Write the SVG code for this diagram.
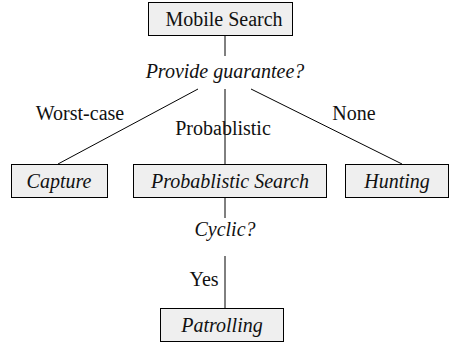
<svg xmlns="http://www.w3.org/2000/svg" width="454" height="343" viewBox="0 0 454 343">
<style>
.box{fill:#efefef;stroke:#000;stroke-width:1}
.c{stroke:#000;stroke-width:1;fill:none}
</style>
<rect width="454" height="343" fill="#fff"/>
<g font-family="Liberation Serif, DejaVu Serif, serif" font-size="20" fill="#111" text-anchor="middle">
<g id="connectors">
<line class="c" x1="225" y1="35" x2="225" y2="56"/>
<line class="c" x1="198" y1="89" x2="58" y2="164"/>
<line class="c" x1="225" y1="89" x2="225" y2="164"/>
<line class="c" x1="251" y1="89" x2="402" y2="164"/>
<line class="c" x1="225" y1="197" x2="225" y2="218"/>
<line class="c" x1="225" y1="256" x2="225" y2="308"/>
<text font-style="italic" x="225" y="78">Provide guarantee?</text>
<text font-style="italic" x="225" y="236">Cyclic?</text>
<text x="80" y="120">Worst-case</text>
<text x="223" y="135">Probablistic</text>
<text x="354" y="120">None</text>
<text x="204" y="286">Yes</text>
</g>
<g id="mobile-search">
<rect class="box" x="148.5" y="2.5" width="144" height="33"/>
<text x="224" y="26">Mobile Search</text>
</g>
<g id="capture">
<rect class="box" x="11.5" y="164.5" width="96" height="33"/>
<text font-style="italic" x="59" y="188">Capture</text>
</g>
<g id="probablistic-search">
<rect class="box" x="133.5" y="164.5" width="193" height="33"/>
<text font-style="italic" x="230" y="188">Probablistic Search</text>
</g>
<g id="hunting">
<rect class="box" x="345.5" y="164.5" width="103" height="33"/>
<text font-style="italic" x="397" y="188">Hunting</text>
</g>
<g id="patrolling">
<rect class="box" x="160.5" y="308.5" width="123" height="33"/>
<text font-style="italic" x="222" y="332">Patrolling</text>
</g>
</g>
</svg>
